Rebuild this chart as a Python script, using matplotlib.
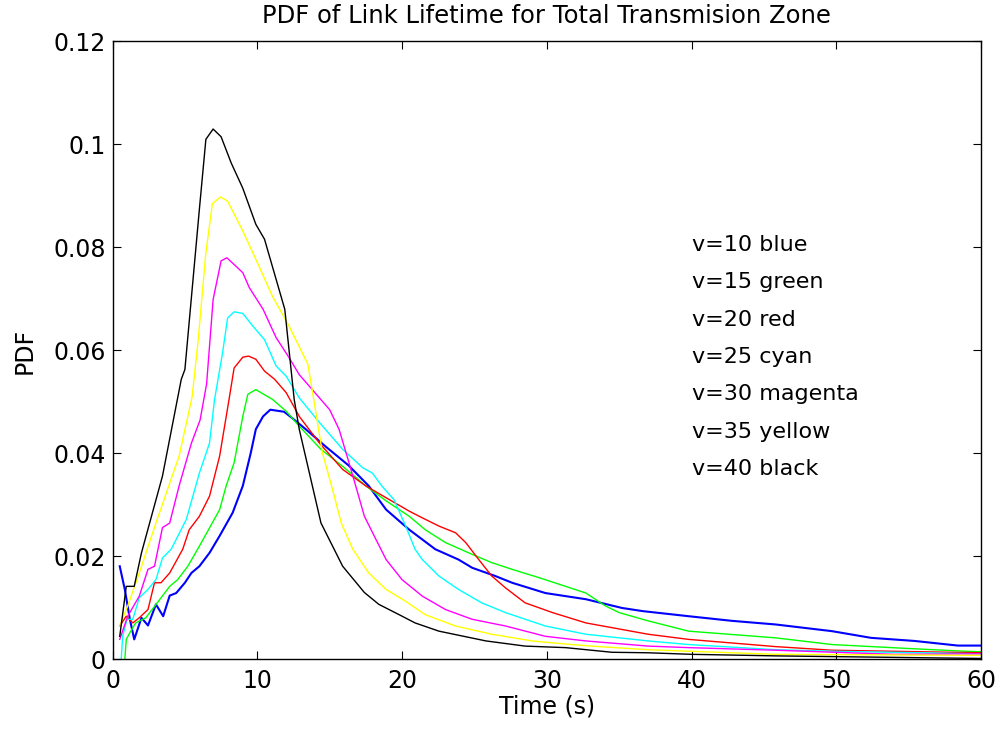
import matplotlib
matplotlib.use("Agg")
import matplotlib.pyplot as plt

plt.rcParams['font.family'] = ['DejaVu Sans']

# v = 10 (blue)
t_v10 = [0.5, 0.85, 1.2, 1.5, 2.0, 2.45, 3.0, 3.5, 3.95, 4.4, 5.0, 5.45, 6.0, 6.7, 7.4, 8.3, 9.0,
         9.55, 9.9, 10.4, 10.9, 11.85, 12.4, 13.35, 14.7, 16.3, 17.7, 18.9, 20.5, 22.3, 23.9, 24.85,
         26.45, 27.6, 29.9, 32.7, 35.2, 36.6, 39.8, 42.8, 45.8, 49.7, 52.4, 55.4, 58.4, 60]
pdf_v10 = [0.0181, 0.0136, 0.0078, 0.0039, 0.0081, 0.0066, 0.0107, 0.0084, 0.0124, 0.0129, 0.0149,
           0.0168, 0.0181, 0.0207, 0.0240, 0.0285, 0.0337, 0.0401, 0.0447, 0.0472, 0.0485, 0.0481,
           0.0469, 0.0447, 0.0414, 0.0377, 0.0337, 0.0291, 0.0252, 0.0214, 0.0194, 0.0178, 0.0162,
           0.0149, 0.0129, 0.0117, 0.0100, 0.0094, 0.0084, 0.0075, 0.0068, 0.0055, 0.0042, 0.0036,
           0.0027, 0.0027]

# v = 15 (green)
t_v15 = [0.85, 0.95, 1.2, 1.6, 2.3, 2.9, 3.95, 4.5, 5.2, 6.0, 7.4, 7.85, 8.4, 9.0, 9.35, 9.9, 11.05,
         12.0, 12.9, 14.4, 15.9, 17.5, 18.9, 20.5, 21.6, 23.0, 24.85, 26.2, 27.6, 29.45, 31.3, 32.7,
         34.05, 35.0, 37.0, 39.8, 45.8, 49.7, 55.2, 58.9, 60]
pdf_v15 = [0.0, 0.0039, 0.0052, 0.0071, 0.0081, 0.0103, 0.0142, 0.0155, 0.0181, 0.0220, 0.0291,
           0.0337, 0.0382, 0.0472, 0.0515, 0.0524, 0.0505, 0.0482, 0.0453, 0.0408, 0.0375, 0.0337,
           0.0308, 0.0278, 0.0252, 0.0227, 0.0204, 0.0188, 0.0175, 0.0159, 0.0142, 0.0129, 0.0104,
           0.0091, 0.0075, 0.0055, 0.0042, 0.0029, 0.0021, 0.0016, 0.0015]

# v = 20 (red)
t_v20 = [0.5, 0.95, 1.4, 1.85, 2.45, 2.9, 3.35, 3.95, 4.85, 5.3, 6.0, 6.7, 7.4, 8.05, 8.4, 9.0, 9.4,
         9.9, 10.5, 11.2, 12.0, 12.9, 14.3, 15.9, 17.5, 18.9, 20.5, 21.4, 22.55, 23.7, 24.4, 25.3,
         26.2, 27.15, 28.5, 30.4, 32.7, 37.0, 39.8, 45.8, 49.7, 60]
pdf_v20 = [0.0065, 0.0084, 0.0071, 0.0081, 0.0097, 0.0149, 0.0149, 0.0168, 0.0214, 0.0252, 0.0278,
           0.0317, 0.0395, 0.0505, 0.0566, 0.0587, 0.0589, 0.0583, 0.0560, 0.0544, 0.0518, 0.0472,
           0.0420, 0.0369, 0.0337, 0.0314, 0.0288, 0.0275, 0.0259, 0.0246, 0.0227, 0.0194, 0.0162,
           0.0139, 0.0110, 0.0091, 0.0071, 0.0049, 0.0039, 0.0025, 0.0018, 0.0013]

# v = 25 (cyan)
t_v25 = [0.6, 0.7, 1.0, 1.4, 1.85, 2.45, 3.0, 3.45, 4.05, 5.1, 6.0, 6.7, 7.05, 7.6, 7.95, 8.4, 9.0,
         9.7, 10.5, 11.3, 12.0, 12.9, 14.3, 15.9, 17.3, 17.95, 18.6, 19.45, 20.25, 20.9, 21.4, 22.55,
         23.9, 25.5, 27.15, 29.9, 32.7, 37.0, 39.8, 45.8, 49.7, 60]
pdf_v25 = [0.0, 0.0045, 0.0078, 0.0078, 0.0120, 0.0136, 0.0155, 0.0197, 0.0214, 0.0272, 0.0362,
           0.0420, 0.0505, 0.0595, 0.0663, 0.0675, 0.0672, 0.0647, 0.0621, 0.0570, 0.0550, 0.0508,
           0.0460, 0.0408, 0.0372, 0.0362, 0.0337, 0.0310, 0.0259, 0.0214, 0.0194, 0.0162, 0.0136,
           0.0110, 0.0091, 0.0065, 0.0049, 0.0036, 0.0029, 0.0019, 0.0016, 0.0011]

# v = 30 (magenta)
t_v30 = [0.5, 1.05, 1.85, 2.45, 2.9, 3.45, 3.95, 4.6, 5.45, 6.05, 6.5, 6.95, 7.5, 7.9, 9.0, 9.45,
         10.4, 11.3, 12.2, 12.9, 13.8, 15.0, 15.65, 16.2, 16.8, 17.4, 18.2, 18.9, 20.0, 21.4, 23.0,
         24.85, 27.15, 29.9, 32.7, 37.0, 39.8, 45.8, 54.0, 60]
pdf_v30 = [0.0039, 0.0084, 0.0123, 0.0175, 0.0181, 0.0256, 0.0265, 0.0337, 0.0420, 0.0465, 0.0535,
           0.0699, 0.0774, 0.0780, 0.0751, 0.0722, 0.0680, 0.0625, 0.0586, 0.0553, 0.0524, 0.0485,
           0.0447, 0.0395, 0.0337, 0.0278, 0.0233, 0.0194, 0.0155, 0.0123, 0.0097, 0.0078, 0.0065,
           0.0045, 0.0036, 0.0026, 0.0023, 0.0018, 0.0010, 0.0011]

# v = 35 (yellow)
t_v35 = [0.5, 1.05, 1.85, 3.0, 4.6, 5.5, 5.9, 6.45, 6.9, 7.45, 7.95, 9.0, 9.9, 11.05, 12.2, 13.5,
         13.9, 14.5, 15.2, 15.8, 16.6, 17.7, 18.9, 20.25, 21.6, 23.7, 26.2, 29.0, 31.7, 33.6, 37.0,
         39.8, 45.8, 60]
pdf_v35 = [0.0065, 0.0104, 0.0168, 0.0265, 0.0395, 0.0510, 0.0615, 0.0790, 0.0885, 0.0898, 0.0890,
           0.0832, 0.0777, 0.0705, 0.0647, 0.0573, 0.0505, 0.0401, 0.0330, 0.0265, 0.0214, 0.0168,
           0.0136, 0.0113, 0.0087, 0.0065, 0.0049, 0.0036, 0.0029, 0.0025, 0.0019, 0.0016, 0.0010,
           0.0008]

# v = 40 (black)
t_v40 = [0.5, 0.95, 1.5, 2.0, 3.45, 4.75, 5.0, 6.0, 6.45, 6.95, 7.5, 8.2, 9.0, 9.9, 10.5, 11.9,
         12.55, 12.9, 14.4, 15.9, 17.4, 18.4, 19.8, 20.9, 22.55, 25.8, 28.5, 31.3, 34.5, 37.0, 40.0,
         45.8, 57.0, 60]
pdf_v40 = [0.0045, 0.0142, 0.0142, 0.0207, 0.0356, 0.0544, 0.0563, 0.0874, 0.1010, 0.1030, 0.1015,
           0.0964, 0.0915, 0.0845, 0.0816, 0.0680, 0.0505, 0.0447, 0.0265, 0.0181, 0.0130, 0.0107,
           0.0087, 0.0071, 0.0055, 0.0036, 0.0026, 0.0023, 0.0014, 0.0013, 0.0010, 0.0007, 0.0003,
           0.0002]

labels = ['v=10 blue', 'v=15 green', 'v=20 red', 'v=25 cyan',
          'v=30 magenta', 'v=35 yellow', 'v=40 black']
x_ticks = [0, 10, 20, 30, 40, 50, 60]
y_ticks = [0, 0.02, 0.04, 0.06, 0.08, 0.1, 0.12]
y_tick_labels = ['0', '0.02', '0.04', '0.06', '0.08', '0.1', '0.12']

series = [
    (t_v10, pdf_v10, '#0000ff', 1.5),
    (t_v15, pdf_v15, '#00ff00', 1.0),
    (t_v20, pdf_v20, '#ff0000', 1.0),
    (t_v25, pdf_v25, '#00ffff', 1.0),
    (t_v30, pdf_v30, '#ff00ff', 1.0),
    (t_v35, pdf_v35, '#ffff00', 1.0),
    (t_v40, pdf_v40, '#000000', 1.0),
]

fig = plt.figure(figsize=(10.01, 7.30), dpi=100)
ax = fig.add_axes([0.1124, 0.0966, 0.8677, 0.8466])

for t, p, c, lw in series:
    ax.plot(t, p, color=c, linewidth=lw)

ax.set_xlim(0, 60)
ax.set_ylim(0, 0.12)
ax.set_xticks(x_ticks)
ax.set_yticks(y_ticks)
ax.set_yticklabels(y_tick_labels)
ax.tick_params(direction='in', length=6, width=0.8, top=True, right=True,
               labelsize=17)
ax.tick_params(axis='x', pad=7)
ax.tick_params(axis='y', pad=5)
for s in ax.spines.values():
    s.set_linewidth(1.0)

ax.set_title('PDF of Link Lifetime for Total Transmision Zone', fontsize=17.5, pad=13)
ax.set_xlabel('Time (s)', fontsize=17, labelpad=1)
ax.set_ylabel('PDF', fontsize=17, labelpad=12)

for i, lab in enumerate(labels):
    ax.text(40.0, 0.0793 - i * 0.00725, lab, fontsize=16, ha='left', va='baseline')

fig.savefig('out.png', dpi=100)
